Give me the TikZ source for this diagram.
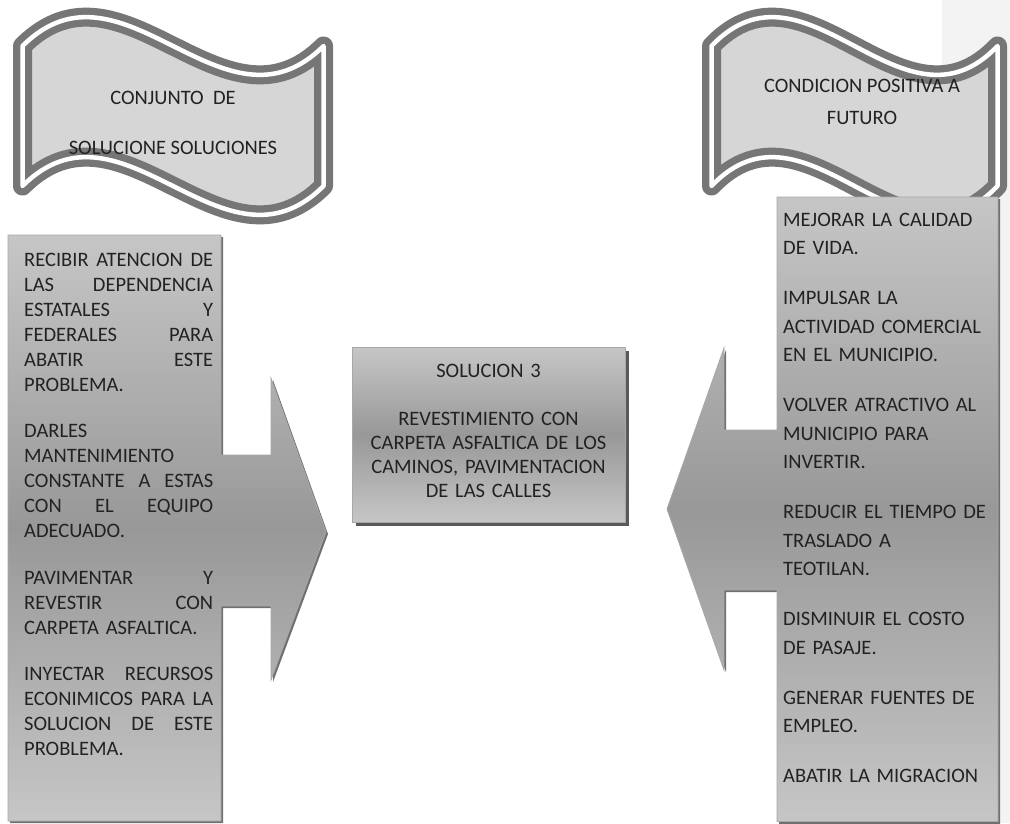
\documentclass[tikz,border=0pt]{standalone}
\usepackage{fontspec}
\setmainfont{Carlito}
\definecolor{txt}{HTML}{222222}
\definecolor{bandc}{HTML}{F3F3F3}
\definecolor{bnfill}{HTML}{D6D6D6}
\definecolor{bnline}{HTML}{767676}
\definecolor{gl}{HTML}{C6C6C6}
\definecolor{gd}{HTML}{989898}
\definecolor{shad}{HTML}{707070}
\definecolor{edge}{HTML}{A8A8A8}
\newcommand\jl[1]{\makebox[189pt][s]{#1}}
\tikzset{
  bannerbody/.style={fill=bnfill, draw=bnline, line width=19pt, line join=round},
  bannerwhite/.style={draw=white, line width=4.5pt, line join=round},
  grshape/.style={top color=gl, bottom color=gl, middle color=gd, draw=edge, line width=0.8pt},
  shadowshape/.style={fill=shad},
  bodytext/.style={inner sep=0pt, text=txt, font=\fontsize{20.5}{25}\selectfont},
}
\begin{document}
\begin{tikzpicture}[x=1pt,y=-1pt]
\useasboundingbox (0,0) rectangle (1010,823);
\fill[white] (0,0) rectangle (1010,823);
\fill[bandc] (942,0) rectangle (1010,823);

% left banner
\path[bannerbody] (22.5,46) .. controls (122.8,-54) and (223.2,146) .. (323.5,46)
  -- (323.5,186) .. controls (223.2,286) and (122.8,86) .. (22.5,186) -- cycle;
\path[bannerwhite] (22.5,46) .. controls (122.8,-54) and (223.2,146) .. (323.5,46)
  -- (323.5,186) .. controls (223.2,286) and (122.8,86) .. (22.5,186) -- cycle;
\node[bodytext, anchor=north, align=center, font=\fontsize{20.5}{50}\selectfont] (bl) at (173,90.5)
  {CONJUNTO\ \ DE\\SOLUCIONE SOLUCIONES};

% right banner
\path[bannerbody] (711.5,46) .. controls (806.8,-54) and (902.2,146) .. (997.5,46)
  -- (997.5,186) .. controls (902.2,286) and (806.8,86) .. (711.5,186) -- cycle;
\path[bannerwhite] (711.5,46) .. controls (806.8,-54) and (902.2,146) .. (997.5,46)
  -- (997.5,186) .. controls (902.2,286) and (806.8,86) .. (711.5,186) -- cycle;
\node[bodytext, anchor=north, align=center, font=\fontsize{20.5}{32}\selectfont] (br) at (862,78.5)
  {CONDICION POSITIVA A\\FUTURO};

% left arrow shape
\fill[shadowshape] (10,237) -- (223,237) -- (223,457) -- (273,457) -- (273,380)
  -- (328,534) -- (273,682) -- (273,608) -- (223,608) -- (223,823) -- (10,823) -- cycle;
\shade[grshape] (8,235) -- (221,235) -- (221,455) -- (271,455) -- (271,378)
  -- (326,532) -- (271,680) -- (271,606) -- (221,606) -- (221,821) -- (8,821) -- cycle;

% right arrow shape
\fill[shadowshape] (779,199) -- (1000,199) -- (1000,824) -- (779,824) -- (779,592)
  -- (726,592) -- (726,672) -- (669,511) -- (726,350) -- (726,432) -- (779,432) -- cycle;
\shade[grshape] (777,197) -- (998,197) -- (998,821.5) -- (777,821.5) -- (777,590)
  -- (724,590) -- (724,670) -- (667,509) -- (724,348) -- (724,430) -- (777,430) -- cycle;

% centre box
\fill[fill=black!65] (356,351) rectangle (629,526);
\shade[grshape] (352,347) rectangle (625,522);

% texts
\node[bodytext, anchor=north west, text width=189pt, align=left] (lt) at (24,252.5)
  {\jl{RECIBIR\hfill ATENCION\hfill DE}\\
   \jl{LAS\hfill DEPENDENCIA}\\
   \jl{ESTATALES\hfill Y}\\
   \jl{FEDERALES\hfill PARA}\\
   \jl{ABATIR\hfill ESTE}\\
   PROBLEMA.\\[21.5pt]
   DARLES\\
   MANTENIMIENTO\\
   \jl{CONSTANTE\hfill A\hfill ESTAS}\\
   \jl{CON\hfill EL\hfill EQUIPO}\\
   ADECUADO.\\[21.5pt]
   \jl{PAVIMENTAR\hfill Y}\\
   \jl{REVESTIR\hfill CON}\\
   CARPETA ASFALTICA.\\[21.5pt]
   \jl{INYECTAR\hfill RECURSOS}\\
   \jl{ECONIMICOS\hfill PARA\hfill LA}\\
   \jl{SOLUCION\hfill DE\hfill ESTE}\\
   PROBLEMA.};

\node[bodytext, anchor=north, text width=265pt, align=center, font=\fontsize{20.5}{24}\selectfont] (ct) at (488.5,363.5)
  {SOLUCION 3\\[24pt]
   REVESTIMIENTO CON\\
   CARPETA ASFALTICA DE LOS\\
   CAMINOS, PAVIMENTACION\\
   DE LAS CALLES};

\node[bodytext, anchor=north west, text width=215pt, align=left, font=\fontsize{20.5}{28.5}\selectfont] (rt) at (783,212.5)
  {MEJORAR LA CALIDAD\\
   DE VIDA.\\[21.5pt]
   IMPULSAR LA\\
   ACTIVIDAD COMERCIAL\\
   EN EL MUNICIPIO.\\[21.5pt]
   VOLVER ATRACTIVO AL\\
   MUNICIPIO PARA\\
   INVERTIR.\\[21.5pt]
   REDUCIR EL TIEMPO DE\\
   TRASLADO A\\
   TEOTILAN.\\[21.5pt]
   DISMINUIR EL COSTO\\
   DE PASAJE.\\[21.5pt]
   GENERAR FUENTES DE\\
   EMPLEO.\\[21.5pt]
   ABATIR LA MIGRACION};
\end{tikzpicture}
\end{document}
